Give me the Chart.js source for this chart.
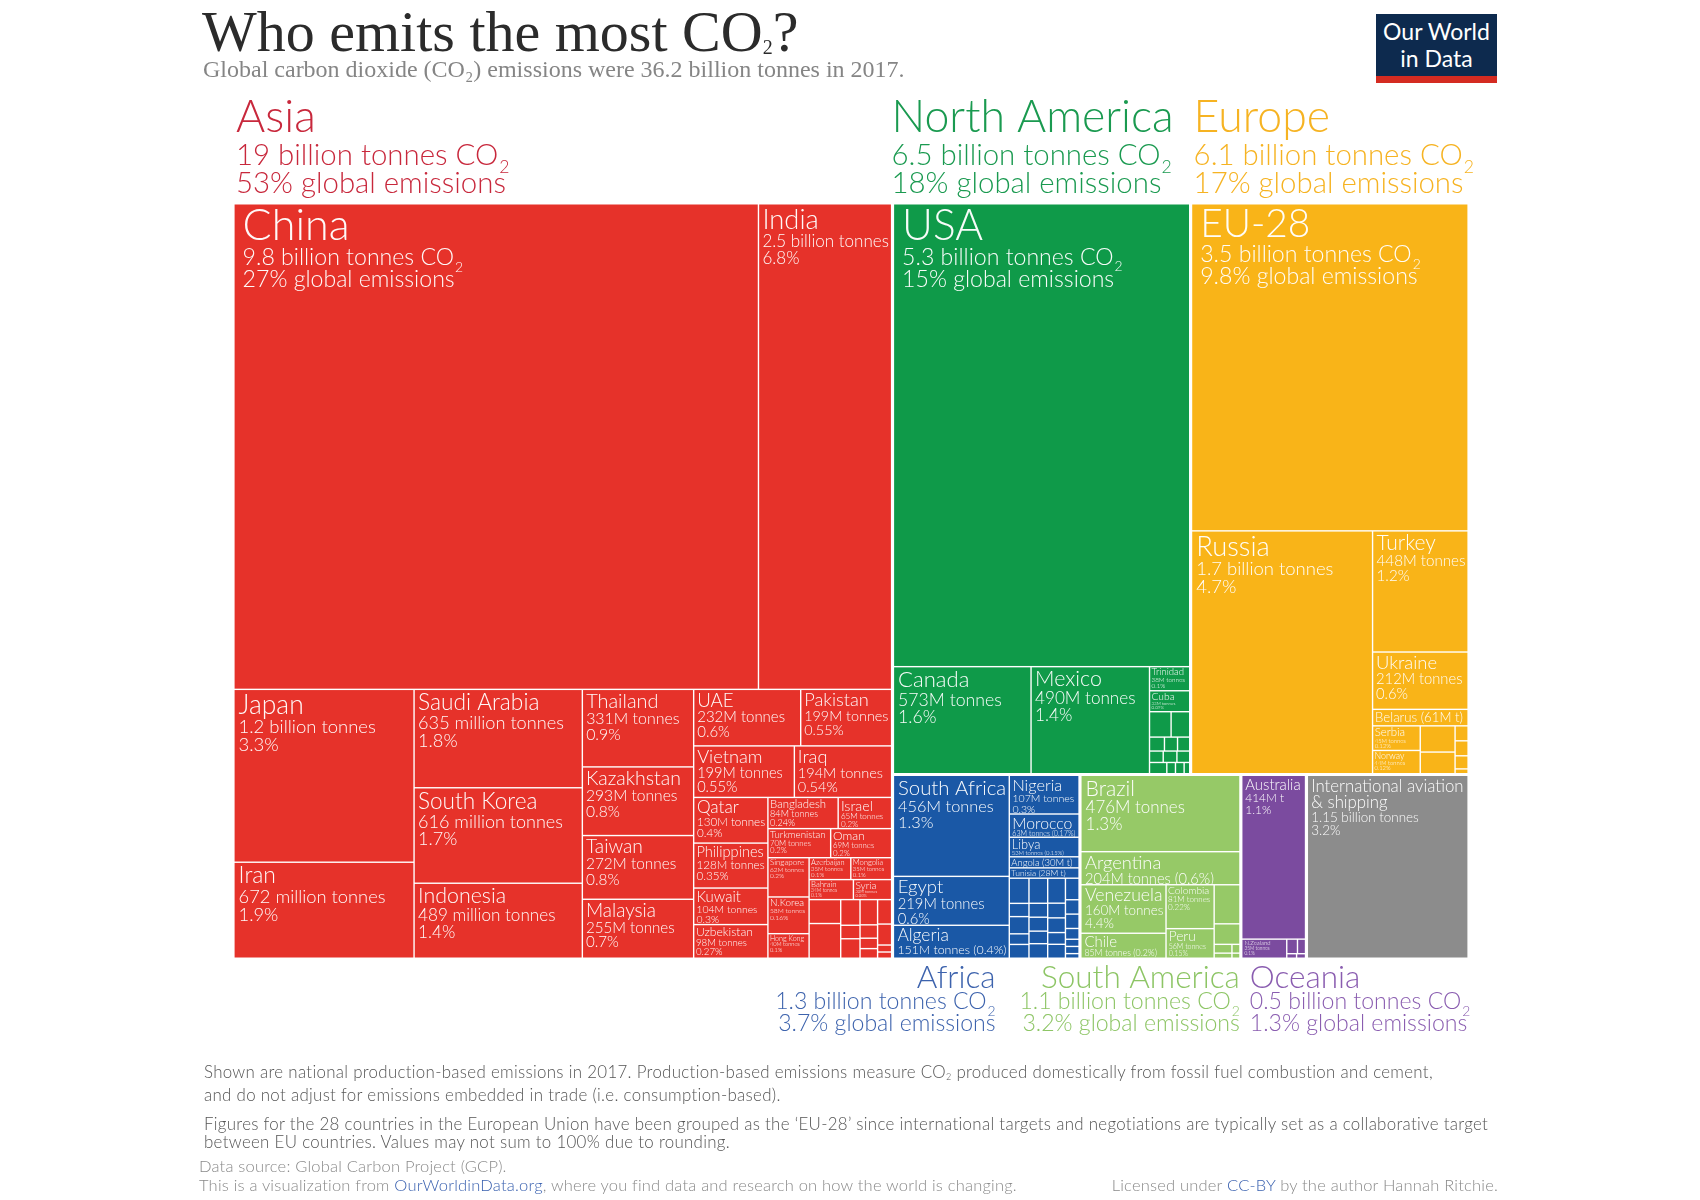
<!DOCTYPE html>
<html>
<head>
<meta charset="utf-8">
<script src="https://cdn.jsdelivr.net/npm/chart.js@4.4.1/dist/chart.umd.min.js"></script>
<style>
  html, body { margin: 0; padding: 0; background: #fff; }
  #wrap { position: relative; width: 1700px; height: 1200px; overflow: hidden; }
  #chart { position: absolute; left: 0; top: 0; }
  .title { position: absolute; left: 202px; top: 3px; font-family: "Liberation Serif", serif; font-size: 58px; line-height: 58px; color: #2b2b2b; white-space: nowrap; }
  .title .sub { font-size: 20px; position: relative; top: 3px; }
  .subtitle { position: absolute; left: 203px; top: 57px; font-family: "Liberation Serif", serif; font-size: 24px; line-height: 24px; color: #858585; white-space: nowrap; }
  .logo { position: absolute; left: 1376px; top: 14px; width: 121px; background: #0d2a4e; border-bottom: 7px solid #d42b21; color: #fff; font-family: Lato, sans-serif; font-size: 23px; line-height: 27px; text-align: center; padding-top: 4px; height: 58px; }
  .notes { position: absolute; left: 204px; font-family: Lato, Roboto, sans-serif; font-weight: 300; font-size: 16.9px; letter-spacing: 0.3px; line-height: 18px; color: #555; white-space: nowrap; }
  .notes sub { font-size: 9px; vertical-align: -2px; }
  .source { position: absolute; font-family: Lato, sans-serif; font-weight: 300; font-size: 16.5px; letter-spacing: 0.2px; line-height: 19px; color: #8a8a8a; white-space: nowrap; }
  .source a { color: #3b62b0; text-decoration: none; }
</style>
</head>
<body>
<div id="wrap">
  <canvas id="chart" width="1700" height="1200"></canvas>
  <div class="title">Who emits the most CO<span class="sub">2</span>?</div>
  <div class="subtitle">Global carbon dioxide (CO₂) emissions were 36.2 billion tonnes in 2017.</div>
  <div class="logo">Our World<br>in Data</div>
  <div class="notes" style="top:1063px">Shown are national production-based emissions in 2017. Production-based emissions measure CO<sub>2</sub> produced domestically from fossil fuel combustion and cement,<br>and do not adjust for emissions embedded in trade (i.e. consumption-based).</div>
  <div class="notes" style="top:1115px">Figures for the 28 countries in the European Union have been grouped as the ‘EU-28’ since international targets and negotiations are typically set as a collaborative target<br>between EU countries. Values may not sum to 100% due to rounding.</div>
  <div class="source" style="left:199px; top:1157px">Data source: Global Carbon Project (GCP).<br>This is a visualization from <a>OurWorldinData.org</a>, where you find data and research on how the world is changing.</div>
  <div class="source" style="right:202px; top:1176px">Licensed under <a>CC-BY</a> by the author Hannah Ritchie.</div>
</div>
<script>
// ---- data (values in billion tonnes CO2, 2017) ----
const continentNames = ['Asia', 'North America', 'Europe', 'Africa', 'South America', 'Oceania', 'Aviation'];
const continentTotals = ['19 billion tonnes CO₂', '6.5 billion tonnes CO₂', '6.1 billion tonnes CO₂', '1.3 billion tonnes CO₂', '1.1 billion tonnes CO₂', '0.5 billion tonnes CO₂', ''];
const continentShares = ['53% global emissions', '18% global emissions', '17% global emissions', '3.7% global emissions', '3.2% global emissions', '1.3% global emissions', ''];

const asiaCountries = ['China', 'India', 'Japan', 'Iran', 'Saudi Arabia', 'South Korea', 'Indonesia', 'Thailand', 'Kazakhstan', 'Taiwan', 'Malaysia',
  'UAE', 'Pakistan', 'Vietnam', 'Iraq', 'Qatar', 'Philippines', 'Kuwait', 'Uzbekistan', 'Bangladesh', 'Israel', 'Turkmenistan', 'Oman',
  'Singapore', 'N.Korea', 'Hong Kong', 'Azerbaijan', 'Mongolia', 'Bahrain', 'Syria',
  '', '', '', '', '', '', '', '', '', '', '', '', ''];
const asiaValues = [9.8, 2.5, 1.2, 0.672, 0.635, 0.616, 0.489, 0.331, 0.293, 0.272, 0.255,
  0.232, 0.199, 0.199, 0.194, 0.130, 0.128, 0.104, 0.098, 0.084, 0.065, 0.070, 0.069,
  0.062, 0.058, 0.040, 0.035, 0.035, 0.034, 0.030,
  0.029, 0.043, 0.019, 0.010, 0.015, 0.017, 0.009, 0.007, 0.007, 0.014, 0.012, 0.004, 0.004];
const asiaDetails = [['9.8 billion tonnes CO₂', '27% global emissions'], ['2.5 billion tonnes', '6.8%'], ['1.2 billion tonnes', '3.3%'],
  ['672 million tonnes', '1.9%'], ['635 million tonnes', '1.8%'], ['616 million tonnes', '1.7%'], ['489 million tonnes', '1.4%'],
  ['331M tonnes', '0.9%'], ['293M tonnes', '0.8%'], ['272M tonnes', '0.8%'], ['255M tonnes', '0.7%'],
  ['232M tonnes', '0.6%'], ['199M tonnes', '0.55%'], ['199M tonnes', '0.55%'], ['194M tonnes', '0.54%'],
  ['130M tonnes', '0.4%'], ['128M tonnes', '0.35%'], ['104M tonnes', '0.3%'], ['98M tonnes', '0.27%'],
  ['84M tonnes', '0.24%'], ['65M tonnes', '0.2%'], ['70M tonnes', '0.2%'], ['69M tonnes', '0.2%'],
  ['62M tonnes', '0.2%'], ['58M tonnes', '0.16%'], ['40M tonnes', '0.1%'], ['35M tonnes', '0.1%'], ['35M tonnes', '0.1%'],
  ['34M tonnes', '0.1%'], ['30M tonnes', '0.08%']];
const asiaTree = ['v', ['h', 0, 1],
  ['h', ['v', 2, 3], ['v', 4, 5, 6], ['v', 7, 8, 9, 10],
    ['v', ['h', 11, 12], ['h', 13, 14],
      ['h', ['v', 15, 16, 17, 18],
        ['v', ['h', 19, 20], ['h', 21, 22],
          ['h', ['v', 23, 24, 25],
            ['v', ['h', 26, 27], ['h', 28, 29],
              ['h', ['v', 30, 31], ['v', 32, 33, 34], ['v', 35, 36, 37, 38], ['v', 39, 40, 41, 42]]]]]]]]];

const naCountries = ['USA', 'Canada', 'Mexico', 'Trinidad', 'Cuba', '', '', '', '', '', '', '', '', '', '', '', ''];
const naValues = [5.3, 0.573, 0.490, 0.038, 0.033, 0.021, 0.019, 0.008, 0.007, 0.007, 0.006, 0.006, 0.006, 0.008, 0.004, 0.004, 0.003];
const naDetails = [['5.3 billion tonnes CO₂', '15% global emissions'], ['573M tonnes', '1.6%'], ['490M tonnes', '1.4%'],
  ['38M tonnes', '0.1%'], ['33M tonnes', '0.09%']];
const naTree = ['v', 0, ['h', 1, 2, ['v', 3, 4, ['h', 5, 6], ['h', 7, 8, 9], ['h', 10, 11, 12], ['h', 13, 14, 15, 16]]]];

const europeCountries = ['EU-28', 'Russia', 'Turkey', 'Ukraine', 'Belarus (61M t)', 'Serbia', 'Norway', '', '', '', '', '', ''];
const europeValues = [3.5, 1.7, 0.448, 0.212, 0.061, 0.045, 0.044, 0.035, 0.030, 0.008, 0.008, 0.007, 0.003];
const europeDetails = [['3.5 billion tonnes CO₂', '9.8% global emissions'], ['1.7 billion tonnes', '4.7%'], ['448M tonnes', '1.2%'],
  ['212M tonnes', '0.6%'], [], ['45M tonnes', '0.12%'], ['44M tonnes', '0.12%']];
const europeTree = ['v', 0, ['h', 1, ['v', 2, 3, 4, ['h', ['v', 5, 6], ['v', 7, 8], ['v', 9, 10, 11, 12]]]]];

const africaCountries = ['South Africa', 'Egypt', 'Algeria', 'Nigeria', 'Morocco', 'Libya', 'Angola (30M t)', 'Tunisia (28M t)',
  '', '', '', '', '', '', '', '', '', '', '', '', '', '', '', '', '', '', '', '', '', ''];
const africaValues = [0.456, 0.219, 0.151, 0.107, 0.063, 0.053, 0.030, 0.028,
  0.019, 0.010, 0.013, 0.008, 0.011, 0.018, 0.010, 0.010, 0.009, 0.011, 0.017, 0.010, 0.010, 0.008, 0.010,
  0.012, 0.008, 0.008, 0.006, 0.004, 0.004, 0.003];
const africaDetails = [['456M tonnes', '1.3%'], ['219M tonnes', '0.6%'], ['151M tonnes (0.4%)'], ['107M tonnes', '0.3%'],
  ['63M tonnes (0.17%)'], ['53M tonnes (0.15%)'], [], []];
const africaTree = ['h', ['v', 0, 1, 2],
  ['v', 3, 4, 5, 6, 7, ['h', ['v', 8, 9, 10, 11, 12], ['v', 13, 14, 15, 16, 17], ['v', 18, 19, 20, 21, 22], ['v', 23, 24, 25, 26, 27, 28, 29]]]];

const samCountries = ['Brazil', 'Argentina', 'Venezuela', 'Chile', 'Colombia', 'Peru', '', '', '', '', '', ''];
const samValues = [0.476, 0.204, 0.160, 0.085, 0.081, 0.056, 0.040, 0.021, 0.006, 0.004, 0.003, 0.002];
const samDetails = [['476M tonnes', '1.3%'], ['204M tonnes (0.6%)'], ['160M tonnes', '4.4%'], ['85M tonnes (0.2%)'],
  ['81M tonnes', '0.22%'], ['56M tonnes', '0.15%']];
const samTree = ['v', 0, 1, ['h', ['v', 2, 3], ['v', 4, 5], ['v', 6, 7, ['h', ['v', 8, 9], ['v', 10, 11]]]]];

const oceaniaCountries = ['Australia', 'N.Zealand', '', '', '', ''];
const oceaniaValues = [0.414, 0.035, 0.006, 0.005, 0.002, 0.002];
const oceaniaDetails = [['414M t', '1.1%'], ['35M tonnes', '0.1%']];
const oceaniaTree = ['v', 0, ['h', 1, ['v', ['h', 2, 3], ['h', 4, 5]]]];

const aviationNames = ['International aviation\n& shipping'];
const aviationValues = [1.15];
const aviationDetails = [['1.15 billion tonnes', '3.2%']];
const aviationTree = 0;

// continent order as in continentNames
const worldTree = ['h', 0, ['v', ['h', 1, 2], ['h', 3, 4, 5, 6]]];

// ---- styles ----
const cellColors = ['#e6322a', '#0f9a49', '#f9b418', '#1a58a6', '#96c967', '#7b4b9f', '#8c8c8c'];
const labelColors = ['#c8283c', '#1a9a50', '#f6b322', '#3d63ad', '#8dc565', '#8a5db0', '#888'];
const FONT = 'Lato, Roboto, sans-serif';
const FS = 1.05; // font scale to match the original's wider face
const font = size => `300 ${size * FS}px ${FONT}`;

const continents = [
  { names: asiaCountries, values: asiaValues, details: asiaDetails, tree: asiaTree },
  { names: naCountries, values: naValues, details: naDetails, tree: naTree },
  { names: europeCountries, values: europeValues, details: europeDetails, tree: europeTree },
  { names: africaCountries, values: africaValues, details: africaDetails, tree: africaTree },
  { names: samCountries, values: samValues, details: samDetails, tree: samTree },
  { names: oceaniaCountries, values: oceaniaValues, details: oceaniaDetails, tree: oceaniaTree },
  { names: aviationNames, values: aviationValues, details: aviationDetails, tree: aviationTree }
];

// ---- slice-and-dice layout in value space (0..1 on both axes) ----
function nodeSum(node, vals) {
  if (typeof node === 'number') return vals[node];
  return node.slice(1).reduce((s, c) => s + nodeSum(c, vals), 0);
}
function layout(node, vals, r, out) {
  if (typeof node === 'number') { out.push({ i: node, r: r }); return; }
  const total = nodeSum(node, vals);
  let pos = node[0] === 'h' ? r.x0 : r.y0;
  node.slice(1).forEach(kid => {
    const f = nodeSum(kid, vals) / total;
    if (node[0] === 'h') {
      const w = (r.x1 - r.x0) * f;
      layout(kid, vals, { x0: pos, x1: pos + w, y0: r.y0, y1: r.y1 }, out);
      pos += w;
    } else {
      const h = (r.y1 - r.y0) * f;
      layout(kid, vals, { x0: r.x0, x1: r.x1, y0: pos, y1: pos + h }, out);
      pos += h;
    }
  });
}
const continentSums = continents.map(c => nodeSum(c.tree, c.values));
const continentBoxes = [];
layout(worldTree, continentSums, { x0: 0, x1: 1, y0: 0, y1: 1 }, continentBoxes);
continentBoxes.forEach(b => {
  const c = continents[b.i];
  c.box = b.r;
  c.cells = [];
  layout(c.tree, c.values, b.r, c.cells);
});

// ---- text helpers ----
function richWidth(ctx, text, size) {
  ctx.font = font(size);
  const k = text.indexOf('CO₂');
  if (k < 0) return ctx.measureText(text).width;
  const a = ctx.measureText(text.slice(0, k) + 'CO').width + ctx.measureText(text.slice(k + 3)).width;
  ctx.font = font(size * 0.6);
  const b = ctx.measureText('2').width + 1;
  ctx.font = font(size);
  return a + b;
}
function drawRich(ctx, text, x, y, size, align) {
  const w = richWidth(ctx, text, size);
  ctx.textAlign = 'left';
  let cx = align === 'right' ? x - w : x;
  const k = text.indexOf('CO₂');
  ctx.font = font(size);
  if (k < 0) { ctx.fillText(text, cx, y); return; }
  const head = text.slice(0, k) + 'CO';
  ctx.fillText(head, cx, y);
  cx += ctx.measureText(head).width;
  ctx.font = font(size * 0.6);
  ctx.fillText('2', cx + 1, y + size * 0.3);
  cx += ctx.measureText('2').width + 1;
  ctx.font = font(size);
  ctx.fillText(text.slice(k + 3), cx, y);
}

function drawCellLabel(ctx, name, lines, L) {
  const w = L.x1 - L.x0, h = L.y1 - L.y0;
  const s2 = Math.sqrt(w * h);
  const nameLines = name.split('\n');
  ctx.save();
  ctx.beginPath();
  ctx.rect(L.x0, L.y0, w, h);
  ctx.clip();
  ctx.fillStyle = 'rgba(255,255,255,0.97)';
  ctx.textBaseline = 'alphabetic';
  if (s2 > 280) {
    const s = Math.min(41, 22 + 0.05 * s2);
    const x = L.x0 + 8;
    let y = L.y0 + 6 + 0.72 * s;
    drawRich(ctx, name, x, y, s);
    y += 25;
    lines.forEach(t => { drawRich(ctx, t, x, y, 22); y += 22; });
  } else {
    let s = Math.min(26, 12 + 0.075 * s2);
    ctx.font = font(s);
    const wn = Math.max(...nameLines.map(t => ctx.measureText(t).width));
    if (wn > w - 7) s *= (w - 7) / wn;
    let d = Math.min(17.6, s * 0.8);
    ctx.font = font(d);
    const wd = lines.length ? Math.max(...lines.map(t => ctx.measureText(t).width)) : 0;
    if (wd > w - 6) d *= (w - 6) / wd;
    const need = s * 0.78 + (nameLines.length - 1) * s * 1.0 + lines.length * d * 1.08;
    if (need > h - 4) { const k = (h - 4) / need; s *= k; d *= k; }
    const pad = Math.max(2, Math.min(4, s * 0.2));
    const x = L.x0 + pad;
    let y = L.y0 + Math.max(2, Math.min(6, s * 0.25)) + 0.72 * s;
    nameLines.forEach((t, j) => { if (j) y += s; drawRich(ctx, t, x, y, s); });
    lines.forEach((t, j) => { y += d * (j ? 1.03 : 1.1); drawRich(ctx, t, x, y, d); });
  }
  ctx.restore();
}

const treemapPlugin = {
  id: 'treemap',
  afterDatasetsDraw(chart) {
    const { ctx, scales: { x, y } } = chart;
    const px = r => ({ x0: x.getPixelForValue(r.x0), x1: x.getPixelForValue(r.x1), y0: y.getPixelForValue(r.y0), y1: y.getPixelForValue(r.y1) });
    continents.forEach((c, ci) => {
      const P = px(c.box);
      const Pi = { x0: P.x0 + 1.6, x1: P.x1 - 1.6, y0: P.y0 + 1.6, y1: P.y1 - 1.6 };
      ctx.save();
      ctx.beginPath();
      ctx.rect(Pi.x0, Pi.y0, Pi.x1 - Pi.x0, Pi.y1 - Pi.y0);
      ctx.clip();
      ctx.fillStyle = 'rgba(255,255,255,0.75)';
      ctx.fillRect(Pi.x0, Pi.y0, Pi.x1 - Pi.x0, Pi.y1 - Pi.y0);
      ctx.fillStyle = cellColors[ci];
      c.cells.forEach(cell => {
        const R = px(cell.r);
        ctx.fillRect(R.x0 + 0.7, R.y0 + 0.7, R.x1 - R.x0 - 1.4, R.y1 - R.y0 - 1.4);
      });
      c.cells.forEach(cell => {
        const name = c.names[cell.i];
        if (!name) return;
        const R = px(cell.r);
        const L = { x0: Math.max(R.x0, Pi.x0), x1: Math.min(R.x1, Pi.x1), y0: Math.max(R.y0, Pi.y0), y1: Math.min(R.y1, Pi.y1) };
        drawCellLabel(ctx, name, c.details[cell.i] || [], L);
      });
      ctx.restore();

      // continent labels outside the treemap
      if (!continentTotals[ci]) return;
      ctx.save();
      ctx.fillStyle = labelColors[ci];
      if (P.y0 <= chart.chartArea.top + 1) {
        const lx = ci === 1 ? P.x0 - 1 : P.x0 + 3;
        drawRich(ctx, continentNames[ci], lx, P.y0 - 71, 42.5);
        drawRich(ctx, continentTotals[ci], lx, P.y0 - 38, 28);
        drawRich(ctx, continentShares[ci], lx, P.y0 - 10, 28);
      } else {
        let lx, align;
        if (ci === 3) { lx = P.x0 + (P.x1 - P.x0) * 0.55; align = 'right'; }
        else if (ci === 4) { lx = P.x1 - 1; align = 'right'; }
        else { lx = P.x0 + 9; align = 'left'; }
        drawRich(ctx, continentNames[ci], lx, P.y1 + 29, 30, align);
        drawRich(ctx, continentTotals[ci], lx, P.y1 + 50, 22, align);
        drawRich(ctx, continentShares[ci], lx, P.y1 + 72, 22, align);
      }
      ctx.restore();
    });
  }
};

new Chart(document.getElementById('chart').getContext('2d'), {
  type: 'scatter',
  data: { datasets: [{ data: [], pointRadius: 0 }] },
  options: {
    responsive: false,
    animation: false,
    events: [],
    layout: { padding: { left: 233, right: 231, top: 203, bottom: 241 } },
    scales: {
      x: { type: 'linear', min: 0, max: 1, display: false },
      y: { type: 'linear', min: 0, max: 1, reverse: true, display: false }
    },
    plugins: { legend: { display: false }, tooltip: { enabled: false }, title: { display: false } }
  },
  plugins: [treemapPlugin]
});
</script>
</body>
</html>
